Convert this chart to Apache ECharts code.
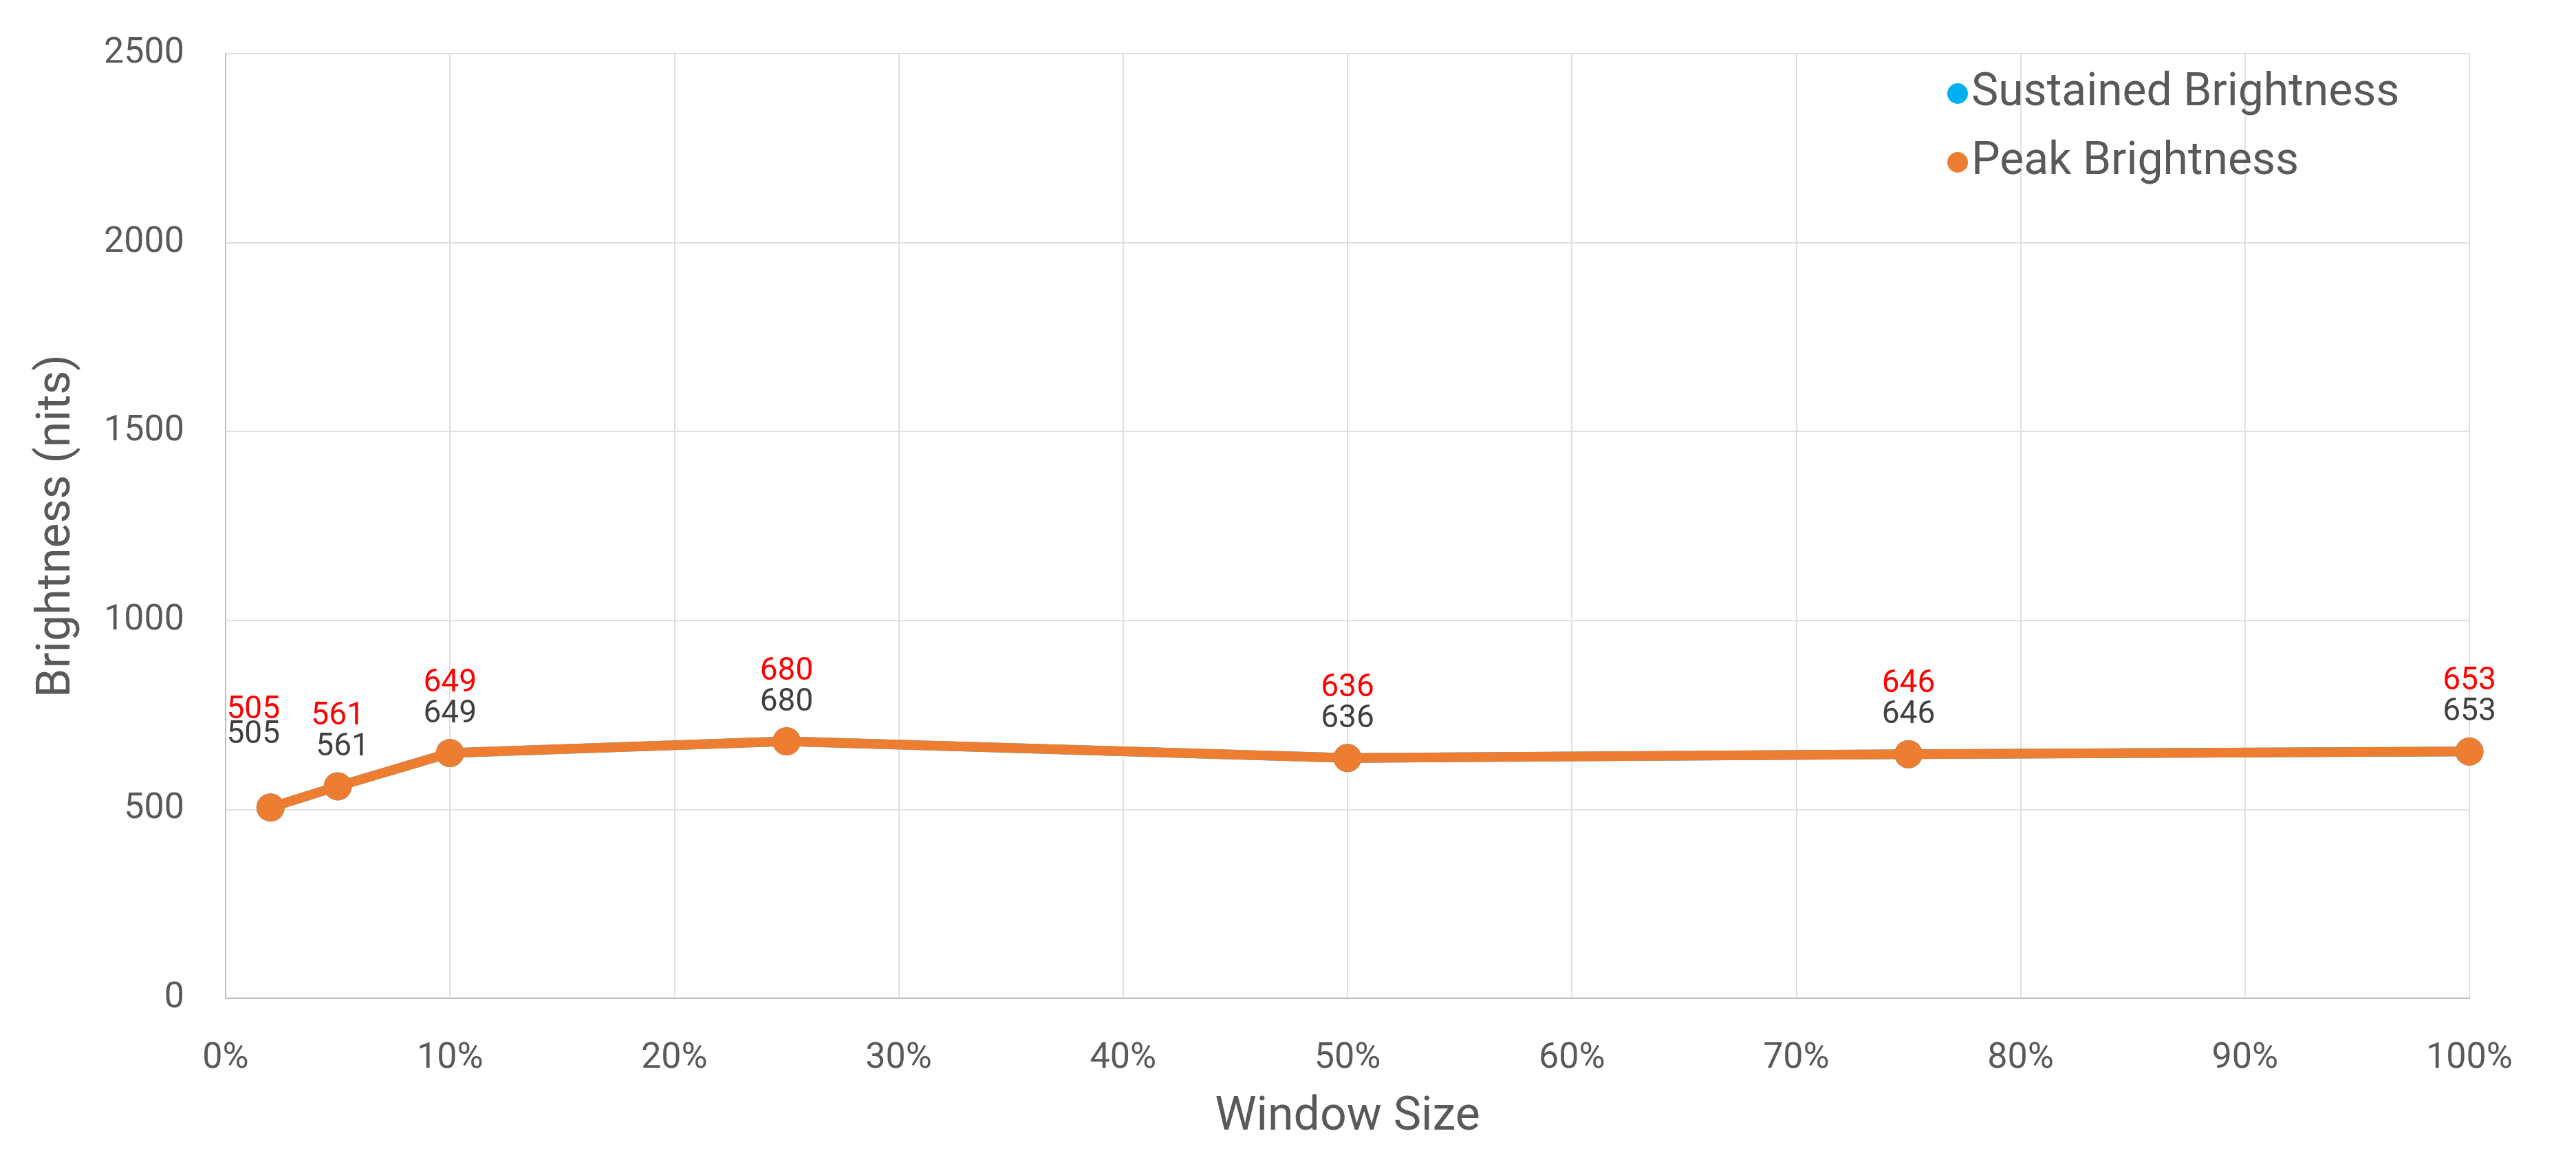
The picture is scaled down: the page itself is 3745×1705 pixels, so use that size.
<!DOCTYPE html>
<html>
<head>
<meta charset="utf-8">
<script src="https://cdn.jsdelivr.net/npm/echarts@6/dist/echarts.min.js"></script>
<style>html,body{margin:0;padding:0;background:#fff;}#c{width:3745px;height:1705px;}</style>
</head>
<body>
<div id="c"></div>
<script>
const windowSizes = [2, 5, 10, 25, 50, 75, 100];
const sustained = [505, 561, 649, 680, 636, 646, 653];
const peak = [505, 561, 649, 680, 636, 646, 653];
const seriesNames = ['Sustained Brightness', 'Peak Brightness'];
const xTitle = 'Window Size';
const yTitle = 'Brightness (nits)';

const FONT = 'Roboto';
const chart = echarts.init(document.getElementById('c'));

function pts(vals) {
  return windowSizes.map((x, i) => [x, vals[i]]);
}
function shifter(map) {
  return function (p) {
    const s = map[p.dataIndex];
    if (s) return { dx: s[0], dy: s[1] };
    return {};
  };
}

chart.setOption({
  backgroundColor: '#fff',
  animation: false,
  grid: { left: 328, right: 155, top: 78, bottom: 254 },
  legend: {
    orient: 'vertical',
    left: 2826, top: 96,
    itemGap: 30,
    itemWidth: 30, itemHeight: 30,
    icon: 'circle',
    textStyle: { fontFamily: FONT, fontSize: 66, color: '#595959', lineHeight: 70 },
    data: seriesNames
  },
  xAxis: {
    type: 'value', min: 0, max: 100, interval: 10,
    name: xTitle, nameLocation: 'middle', nameGap: 140,
    nameTextStyle: { fontFamily: FONT, fontSize: 68, color: '#595959' },
    axisLine: { show: true, lineStyle: { color: '#bfbfbf', width: 2 } },
    axisTick: { show: false },
    axisLabel: { formatter: '{value}%', fontFamily: FONT, fontSize: 52, color: '#595959', margin: 62 },
    splitLine: { show: true, lineStyle: { color: '#e0e0e0', width: 2 } }
  },
  yAxis: {
    type: 'value', min: 0, max: 2500, interval: 500,
    name: yTitle, nameLocation: 'middle', nameGap: 210,
    nameTextStyle: { fontFamily: FONT, fontSize: 68, color: '#595959' },
    axisLine: { show: true, lineStyle: { color: '#bfbfbf', width: 2 } },
    axisTick: { show: false },
    axisLabel: { formatter: function (v) { return String(v); }, fontFamily: FONT, fontSize: 52, color: '#595959', margin: 60 },
    splitLine: { show: true, lineStyle: { color: '#e0e0e0', width: 2 } }
  },
  series: [
    {
      name: seriesNames[0], type: 'line',
      data: pts(sustained),
      symbol: 'circle', symbolSize: 41,
      itemStyle: { color: '#00B0F0' },
      lineStyle: { color: '#00B0F0', width: 14 },
      label: { show: true, position: 'top', distance: 58, fontFamily: FONT, fontSize: 46, color: '#FF0000' },
      labelLayout: shifter({ 0: [-25, -40] }),
      labelLine: { show: false },
      z: 2
    },
    {
      name: seriesNames[1], type: 'line',
      data: pts(peak),
      symbol: 'circle', symbolSize: 41,
      itemStyle: { color: '#ED7D31' },
      lineStyle: { color: '#ED7D31', width: 14 },
      label: { show: true, position: 'top', distance: 13, fontFamily: FONT, fontSize: 46, color: '#404040' },
      labelLayout: shifter({ 0: [-25, -49], 1: [7, 0] }),
      labelLine: { show: false },
      z: 3
    }
  ]
});
</script>
</body>
</html>
